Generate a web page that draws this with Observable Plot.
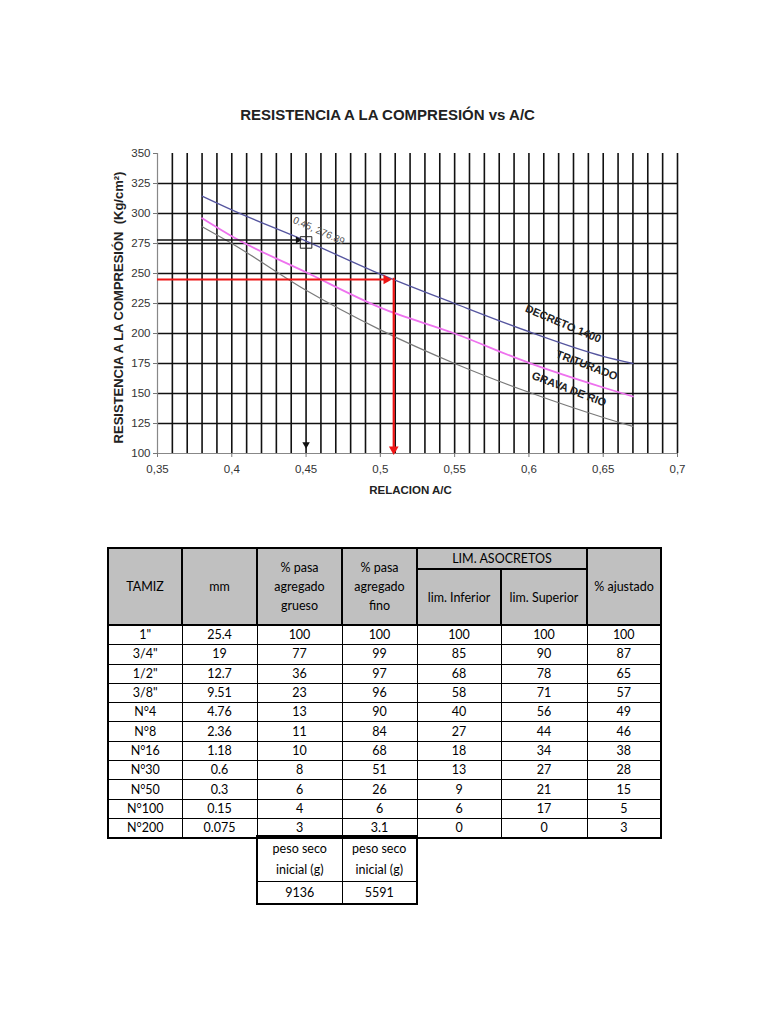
<!DOCTYPE html>
<html><head><meta charset="utf-8">
<script src="https://cdn.jsdelivr.net/npm/d3@7"></script>
<script src="https://cdn.jsdelivr.net/npm/@observablehq/plot@0.6"></script>
<style>
body{margin:0;background:#fff;width:768px;height:1024px;position:relative;overflow:hidden;font-family:"Liberation Sans",Arial,sans-serif}
#chart{position:absolute;left:0;top:90px}
table{border-collapse:collapse;font-family:Lato,"Open Sans",sans-serif;font-size:12.5px;color:#000;position:absolute;table-layout:fixed}
th,td{text-align:center;padding:0;font-weight:normal;line-height:19px}
.main{left:107px;top:547px;width:553px;border:2px solid #000}
.main th{background:#c0c0c0;border:2px solid #000}
.main td{border:1px solid #000;height:18.3px;line-height:16px}
.peso{left:256px;top:835px;width:160px;border:2px solid #000}
.peso td{border:1px solid #000;line-height:21px}
</style></head><body>
<div id="chart"></div>
<div id="tbl"></div>
<script>
// ---- chart data ----
const acRatio     = [0.38, 0.40, 0.45, 0.50, 0.55, 0.60, 0.65, 0.67];
const decreto1400 = [314.5, 303, 277, 249.5, 225, 201.5, 181, 175];
const triturado   = [296, 281, 251, 221.5, 200, 175.5, 155, 147.5];
const gravaDeRio  = [289, 275, 236, 203, 175, 151, 130, 122.5];
const seriesNames = ["DECRETO 1400", "TRITURADO", "GRAVA DE RIO"];
const seriesColors = ["#55559f", "#ee72ee", "#7a7a7a"];
const seriesWidths = [1.3, 1.8, 1.2];
const yTicks = [100, 125, 150, 175, 200, 225, 250, 275, 300, 325, 350];
const yGrid = [125, 150, 175, 200, 225, 250, 275, 300, 325];
const xTicks = [0.35, 0.40, 0.45, 0.50, 0.55, 0.60, 0.65, 0.70];
const xGrid = d3.range(36, 71).map(d => d / 100);
// annotations
const pointAC = [0.45], pointFc = [276.89];
const readAC = [0.509], readFc = [245];

// ---- table data ----
const tamiz = ['1"', '3/4"', '1/2"', '3/8"', 'N°4', 'N°8', 'N°16', 'N°30', 'N°50', 'N°100', 'N°200'];
const mm = [25.4, 19, 12.7, 9.51, 4.76, 2.36, 1.18, 0.6, 0.3, 0.15, 0.075];
const pasaGrueso = [100, 77, 36, 23, 13, 11, 10, 8, 6, 4, 3];
const pasaFino = [100, 99, 97, 96, 90, 84, 68, 51, 26, 6, 3.1];
const limInferior = [100, 85, 68, 58, 40, 27, 18, 13, 9, 6, 0];
const limSuperior = [100, 90, 78, 71, 56, 44, 34, 27, 21, 17, 0];
const ajustado = [100, 87, 65, 57, 49, 46, 38, 28, 15, 5, 3];
const pesoSeco = [9136, 5591];

const curves = [decreto1400, triturado, gravaDeRio];
const lines = curves.map((vals, i) => acRatio.map((a, j) => ({ac: a, fc: vals[j], s: seriesNames[i]})));

const fmt = d => d3.format(".2~f")(d).replace(".", ",");
const labels = [
  {ac: 0.623, fc: 208, t: "DECRETO 1400", r: 23},
  {ac: 0.639, fc: 173.5, t: "TRITURADO", r: 21},
  {ac: 0.627, fc: 153.5, t: "GRAVA DE RIO", r: 21}
];
const red = "#ee1515";

const plot = Plot.plot({
  width: 768, height: 420,
  marginLeft: 157, marginRight: 91, marginTop: 63, marginBottom: 57,
  style: {fontFamily: "'Liberation Sans', Arial, sans-serif", fontSize: "11.5px", background: "transparent"},
  x: {domain: [0.35, 0.7]},
  y: {domain: [100, 350]},
  marks: [
    Plot.gridX(xGrid, {stroke: "#111", strokeOpacity: 1, strokeWidth: 1.6}),
    Plot.gridY(yGrid, {stroke: "#111", strokeOpacity: 1, strokeWidth: 1.6}),
    Plot.ruleX([0.35], {stroke: "#888", strokeWidth: 1.2}),
    Plot.ruleY([100], {stroke: "#888", strokeWidth: 1.2}),
    Plot.axisY({ticks: yTicks, tickSize: 4, tickPadding: 3, label: null, stroke: "#777", fill: "#333"}),
    Plot.axisX({ticks: xTicks, tickSize: 4, tickPadding: 7, tickFormat: fmt, label: null, stroke: "#777", fill: "#333"}),
    ...lines.map((l, i) => Plot.line(l, {x: "ac", y: "fc", stroke: seriesColors[i], strokeWidth: seriesWidths[i], curve: "monotone-x"})),
    // black reading arrows for point 0.45, 276.89
    Plot.ruleY([0], {y: () => pointFc[0] + 1, x1: () => 0.35, x2: () => pointAC[0] - 0.005, stroke: "#111", strokeWidth: 1.4}),
    Plot.dot([0], {x: () => pointAC[0] - 0.0055, y: () => pointFc[0] + 1, symbol: "triangle", rotate: 90, r: 2.6, fill: "#111", stroke: "none"}),
    Plot.dot([0], {x: () => pointAC[0], y: () => 107.5, symbol: "triangle", rotate: 180, r: 2.8, fill: "#111", stroke: "none"}),
    Plot.dot([0], {x: () => pointAC[0], y: () => pointFc[0] - 1, symbol: "square", r: 6.5, stroke: "#222", strokeWidth: 1, fill: "none"}),
    Plot.text([0], {x: () => 0.4586, y: () => 285.6, text: () => "0.45, 276.89", rotate: 24, fontSize: 10, fill: "#555"}),
    // red reading arrows
    Plot.ruleY([0], {y: () => readFc[0], x1: () => 0.35, x2: () => readAC[0] - 0.004, stroke: red, strokeWidth: 2.2}),
    Plot.dot([0], {x: () => readAC[0] - 0.005, y: () => readFc[0], symbol: "triangle", rotate: 90, r: 3.6, fill: red, stroke: "none"}),
    Plot.ruleX([0], {x: () => readAC[0], y1: () => readFc[0] + 1, y2: () => 104, stroke: red, strokeWidth: 2.2}),
    Plot.dot([0], {x: () => readAC[0], y: () => 103.5, symbol: "triangle", rotate: 180, r: 3.6, fill: red, stroke: "none"}),
    Plot.text(labels, {x: "ac", y: "fc", text: "t", rotate: "r", fontWeight: "bold", fontSize: 11, fill: "#222"}),
    // titles
    Plot.text([0], {frameAnchor: "top", dx: -30, dy: -44, text: () => "RESISTENCIA A LA COMPRESIÓN vs A/C", fontWeight: "bold", fontSize: 15, fill: "#222"}),
    Plot.text([0], {frameAnchor: "left", dx: -39, dy: 4, rotate: -90, textAnchor: "middle", text: () => "RESISTENCIA A LA COMPRESIÓN  (Kg/cm²)", fontWeight: "bold", fontSize: 13, fill: "#222"}),
    Plot.text([0], {frameAnchor: "bottom", dx: -7, dy: 40, text: () => "RELACION A/C", fontWeight: "bold", fontSize: 11.5, fill: "#222"})
  ]
});
document.getElementById("chart").appendChild(plot);

// ---- tables ----
const widths = [74, 75, 85, 75, 84, 86, 74];
let h = '<table class="main"><colgroup>' + widths.map(w => `<col style="width:${w}px">`).join("") + '</colgroup>';
h += '<tr><th rowspan="2" style="height:20px">TAMIZ</th><th rowspan="2">mm</th><th rowspan="2">% pasa<br>agregado<br>grueso</th><th rowspan="2">% pasa<br>agregado<br>fino</th><th colspan="2" style="height:19px;line-height:17px">LIM. ASOCRETOS</th><th rowspan="2">% ajustado</th></tr>';
h += '<tr><th style="height:54px">lim. Inferior</th><th>lim. Superior</th></tr>';
tamiz.forEach((t, i) => {
  h += `<tr><td>${t}</td><td>${mm[i]}</td><td>${pasaGrueso[i]}</td><td>${pasaFino[i]}</td><td>${limInferior[i]}</td><td>${limSuperior[i]}</td><td>${ajustado[i]}</td></tr>`;
});
h += '</table>';
h += '<table class="peso"><colgroup><col style="width:85px"><col style="width:75px"></colgroup>';
h += '<tr><td style="height:44px">peso seco<br>inicial (g)</td><td>peso seco<br>inicial (g)</td></tr>';
h += `<tr><td style="height:21px">${pesoSeco[0]}</td><td>${pesoSeco[1]}</td></tr></table>`;
document.getElementById("tbl").innerHTML = h;
</script>
</body></html>
